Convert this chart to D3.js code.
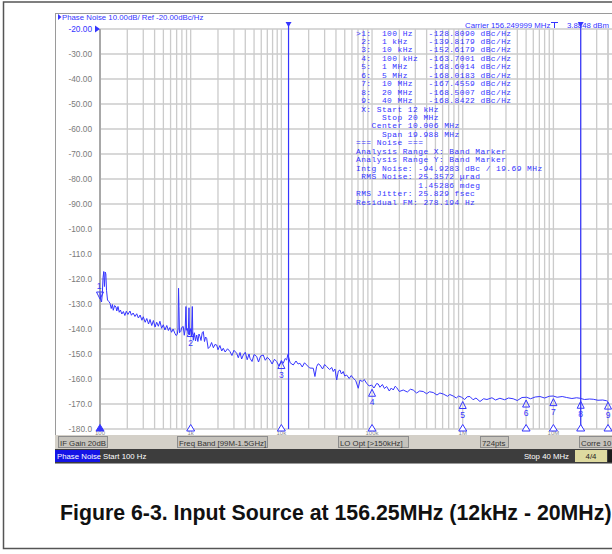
<!DOCTYPE html>
<html>
<head>
<meta charset="utf-8">
<script src="https://cdn.jsdelivr.net/npm/d3@7/dist/d3.min.js"></script>
<style>
body { margin: 0; background: #fff; }
svg { display: block; }
text { font-family: "Liberation Sans", Arial, sans-serif; }
.mono { font-family: "Liberation Mono", "DejaVu Sans Mono", monospace; white-space: pre; }
</style>
</head>
<body>
<svg width="612" height="554"></svg>
<script>
var svg = d3.select("svg");

// phase noise trace (Hz, dBc/Hz)
var freqs = [100, 102, 104, 106, 108, 110, 112, 114, 116, 118, 121, 125, 129, 133, 137, 140, 145, 150, 153, 158,
  163, 168, 174, 181, 188, 195, 203, 214, 222, 232, 243, 254, 265, 277, 290, 300, 315, 328, 343, 356,
  372, 388, 405, 422, 440, 458, 478, 499, 520, 545, 568, 591, 615, 640, 671, 690, 711, 725, 735, 743,
  752, 776, 800, 828, 850, 870, 887, 900, 918, 940, 958, 970, 982, 1000, 1020, 1042, 1055, 1069, 1100, 1130,
  1165, 1200, 1235, 1266, 1300, 1340, 1377, 1420, 1460, 1500, 1560, 1633, 1700, 1780, 1850, 1936, 2000, 2100, 2200, 2287,
  2400, 2550, 2711, 2850, 3000, 3214, 3350, 3500, 3650, 3802, 4000, 4200, 4400, 4508, 4750, 5000, 5342, 5600, 5900, 6310,
  6650, 7000, 7482, 7900, 8400, 8872, 9400, 10000, 10500, 11000, 11430, 11800, 12500, 13520, 14500, 15300, 16030, 17000, 18000, 19010,
  20500, 22480, 23450, 24500, 25500, 26660, 28500, 30000, 31550, 34000, 36000, 37330, 39000, 40740, 42500, 44260, 46000, 48130, 50000, 52480,
  56000, 59000, 62080, 66000, 70460, 73620, 78000, 82000, 87100, 93000, 99000, 105000, 112400, 117000, 122200, 130000, 137000, 144900, 155000, 163000,
  171400, 180000, 186600, 200000, 220800, 245000, 265000, 284400, 310000, 335000, 367300, 400000, 430000, 473100, 520000, 560000, 609500, 680000, 720000, 785200,
  850000, 900000, 972000, 1.05e6, 1.12e6, 1.2e6, 1.3e6, 1.4e6, 1.55e6, 1.7e6, 1.85e6, 2.1e6, 2.3e6, 2.57e6, 2.9e6, 3.2e6, 3.6e6, 4.0e6, 4.5e6, 5.07e6,
  5.6e6, 6.3e6, 7.1e6, 8.0e6, 9.0e6, 9.95e6, 1.1e7, 1.25e7, 1.4e7, 1.6e7, 1.8e7, 1.96e7, 2.2e7, 2.5e7, 2.75e7, 3.1e7, 3.5e7, 3.86e7, 4.0e7];
var noise = [-125.5, -128.5, -129.2, -126.0, -119.5, -117.0, -123.0, -117.2, -118.0, -124.5, -128.4, -129.0, -129.7, -131.8, -130.2, -132.5, -130.6, -131.2, -132.8, -131.0,
  -133.3, -132.4, -134.0, -133.0, -134.6, -132.9, -134.2, -132.8, -134.5, -133.6, -135.0, -133.9, -135.6, -134.4, -136.5, -135.1, -137.3, -135.8, -138.0, -136.2,
  -138.6, -136.6, -139.2, -137.3, -138.9, -136.9, -139.7, -138.3, -140.4, -138.6, -140.6, -139.4, -141.3, -140.0, -141.8, -142.6, -142.2, -140.0, -123.7, -131.0,
  -141.5, -141.0, -139.3, -139.0, -142.5, -140.0, -131.0, -140.5, -139.8, -142.0, -131.5, -142.4, -141.0, -139.8, -143.0, -131.0, -141.8, -144.5, -141.5, -144.8,
  -142.4, -145.0, -142.0, -143.0, -144.6, -141.5, -141.0, -145.0, -143.2, -143.7, -147.8, -147.0, -145.4, -147.5, -146.2, -146.4, -148.3, -146.6, -148.8, -147.7,
  -149.2, -147.9, -149.0, -150.6, -148.5, -149.7, -151.5, -149.4, -152.0, -150.4, -149.3, -152.3, -150.0, -151.7, -153.0, -150.2, -151.0, -153.2, -150.8, -150.4,
  -152.5, -151.3, -152.4, -154.0, -152.1, -153.0, -154.8, -152.6, -153.7, -151.8, -152.4, -150.2, -153.5, -154.4, -152.8, -154.0, -153.7, -155.2, -153.5, -154.4,
  -155.6, -155.7, -159.0, -155.0, -153.9, -154.4, -156.0, -154.2, -155.0, -156.2, -155.4, -157.0, -156.0, -160.4, -156.8, -156.4, -158.0, -157.0, -158.8, -158.4,
  -159.8, -158.6, -159.7, -160.6, -163.7, -160.4, -161.0, -160.2, -161.7, -162.8, -162.4, -163.6, -161.8, -162.0, -163.3, -162.2, -163.8, -163.0, -164.8, -163.6,
  -164.4, -162.9, -163.4, -165.0, -164.4, -165.2, -164.1, -164.4, -165.6, -164.8, -165.0, -165.9, -165.1, -165.4, -166.4, -165.6, -166.0, -166.9, -166.2, -166.8,
  -167.6, -166.8, -167.3, -168.2, -167.1, -167.0, -168.3, -167.6, -169.0, -167.9, -168.2, -167.5, -168.4, -167.7, -168.3, -167.6, -167.9, -168.6, -167.4, -167.3,
  -167.9, -167.2, -167.0, -167.6, -166.9, -166.8, -167.3, -167.0, -167.4, -167.8, -167.5, -167.7, -168.2, -168.0, -168.1, -168.5, -168.4, -168.7, -169.0];

var markerFreqs = [100, 1e3, 1e4, 1e5, 1e6, 5e6, 1e7, 2e7, 4e7];
var markerNames = ["100 Hz", "1 kHz", "10 kHz", "100 kHz", "1 MHz", "5 MHz", "10 MHz", "20 MHz", "40 MHz"];
var markerValues = [-128.8090, -139.8179, -152.6179, -163.7001, -168.6014, -168.0183, -167.4559, -168.5007, -168.8422];

var yTicks = [-20, -30, -40, -50, -60, -70, -80, -90, -100, -110, -120, -130, -140, -150, -160, -170, -180];
var xTickFreqs = [100, 1e3, 1e4, 1e5, 1e6, 1e7];
var xTickLabels = ["100", "1k", "10k", "100k", "1M", "10M"];
var bandStart = 12e3, bandStop = 20e6;

var infoLines = [
  " X: Start 12 kHz",
  "     Stop 20 MHz",
  "   Center 10.006 MHz",
  "     Span 19.988 MHz",
  "=== Noise ===",
  "Analysis Range X: Band Marker",
  "Analysis Range Y: Band Marker",
  "Intg Noise: -94.9283 dBc / 19.69 MHz",
  " RMS Noise: 25.3572 \u00b5rad",
  "            1.45286 mdeg",
  "RMS Jitter: 25.829 fsec",
  "Residual FM: 278.194 Hz"
];

var blue = "#3535ff", gridCol = "#cbcbcb";

var x = d3.scaleLog().domain([100, 4e7]).range([100, 608]);
var y = d3.scaleLinear().domain([-20, -180]).range([29, 429]);

// page frame
svg.append("rect").attr("x", 3.5).attr("y", 2).attr("width", 640).attr("height", 546.5)
  .attr("fill", "none").attr("stroke", "#555").attr("stroke-width", 1.5);
// analyzer screen
svg.append("rect").attr("x", 55.5).attr("y", 13.5).attr("width", 600).attr("height", 450)
  .attr("fill", "#fff").attr("stroke", "#9a9a9a");

// grid
var gridFreqs = [];
[100, 1e3, 1e4, 1e5, 1e6, 1e7].forEach(function (d) {
  for (var k = 1; k <= 9; k++) if (d * k <= 4e7) gridFreqs.push(d * k);
});
gridFreqs.push(4e7);

var grid = svg.append("g");
grid.selectAll("line.v").data(gridFreqs).enter().append("line")
  .attr("x1", function (d) { return x(d); }).attr("x2", function (d) { return x(d); })
  .attr("y1", y(-20)).attr("y2", y(-180))
  .attr("stroke", gridCol).attr("stroke-width", 1.3);
grid.selectAll("line.h").data(yTicks).enter().append("line")
  .attr("x1", x(100)).attr("x2", 612)
  .attr("y1", function (d) { return y(d); }).attr("y2", function (d) { return y(d); })
  .attr("stroke", gridCol).attr("stroke-width", 1.3);
svg.append("line").attr("x1", x(100)).attr("x2", x(100)).attr("y1", y(-20)).attr("y2", y(-180))
  .attr("stroke", "#a8a8a8").attr("stroke-width", 2);

// y labels
svg.append("g").selectAll("text").data(yTicks).enter().append("text")
  .attr("x", 92).attr("y", function (d) { return y(d) + 3; })
  .attr("text-anchor", "end").attr("font-size", 8.3)
  .attr("fill", function (d) { return d === -20 ? blue : "#7a7a7a"; })
  .text(function (d) { return d > -100 ? d.toFixed(2) : d.toFixed(1); });
svg.append("path").attr("d", "M95,25.5L100,29L95,32.5Z").attr("fill", blue);

// x tick labels (tiny)
svg.append("g").selectAll("text").data(xTickFreqs).enter().append("text")
  .attr("x", function (d) { return x(d); }).attr("y", 435)
  .attr("text-anchor", "middle").attr("font-size", 6).attr("fill", "#8a8a8a")
  .text(function (d, i) { return xTickLabels[i]; });

// title
svg.append("path").attr("d", "M58,14L61.5,17L58,20Z").attr("fill", blue);
svg.append("text").attr("x", 62).attr("y", 20).attr("font-size", 7.8).attr("fill", blue)
  .text("Phase Noise 10.00dB/ Ref -20.00dBc/Hz");

// band marker lines
[bandStart, bandStop].forEach(function (f) {
  svg.append("line").attr("x1", x(f)).attr("x2", x(f)).attr("y1", 22).attr("y2", y(-180))
    .attr("stroke", blue).attr("stroke-width", 1.2);
  svg.append("path").attr("d", "M" + (x(f) - 3) + ",22L" + (x(f) + 3) + ",22L" + x(f) + ",27Z").attr("fill", blue);
});

// trace
var line = d3.line()
  .x(function (d) { return x(d); })
  .y(function (d, i) { return y(noise[i]); });
svg.append("path").datum(freqs).attr("d", line)
  .attr("fill", "none").attr("stroke", blue).attr("stroke-width", 1);

// markers on trace
var mk = svg.append("g");
markerFreqs.forEach(function (f, i) {
  var mx = x(f), my = y(markerValues[i]);
  if (i === 0) {
    mk.append("path").attr("d", "M" + (mx - 3.5) + "," + (my - 9) + "L" + (mx + 3.5) + "," + (my - 9) + "L" + mx + "," + (my - 2) + "Z")
      .attr("fill", "none").attr("stroke", blue);
    mk.append("text").attr("x", mx - 1).attr("y", my - 12).attr("text-anchor", "middle")
      .attr("font-size", 8.5).attr("fill", blue).text(i + 1);
  } else {
    mk.append("path").attr("d", "M" + (mx - 3.5) + "," + (my + 8) + "L" + (mx + 3.5) + "," + (my + 8) + "L" + mx + "," + (my + 1) + "Z")
      .attr("fill", "none").attr("stroke", blue);
    mk.append("text").attr("x", mx).attr("y", my + 17).attr("text-anchor", "middle")
      .attr("font-size", 8.5).attr("fill", blue).text(i + 1);
  }
  mk.append("path").attr("d", "M" + (mx - 4) + ",431L" + (mx + 4) + ",431L" + mx + ",424.5Z")
    .attr("fill", i === 0 ? blue : "#fff").attr("stroke", blue);
});

// marker table
var tableLines = markerFreqs.map(function (f, i) {
  var head = (i === 0 ? ">" : " ") + (i + 1) + ":  " + markerNames[i];
  while (head.length < 14) head += " ";
  return head + markerValues[i].toFixed(4) + " dBc/Hz";
}).concat(infoLines);
svg.append("g").selectAll("text").data(tableLines).enter().append("text")
  .attr("class", "mono").attr("x", 356).attr("y", function (d, i) { return 35.5 + i * 8.45; })
  .attr("font-size", 7.9).attr("letter-spacing", 0.45).attr("fill", blue)
  .text(function (d) { return d; });

// carrier readout
svg.append("text").attr("x", 465).attr("y", 28).attr("font-size", 7.8).attr("fill", blue)
  .text("Carrier 156.249999 MHz");
svg.append("path").attr("d", "M551,22.5H558M554.5,22.5V28").attr("stroke", blue).attr("fill", "none");
svg.append("text").attr("x", 567).attr("y", 28).attr("font-size", 7.8).attr("fill", blue)
  .text("3.8848 dBm");

// status bars
svg.append("rect").attr("x", 55).attr("y", 435).attr("width", 560).attr("height", 14).attr("fill", "#d4d0c8");
var boxes = [
  { x: 58, w: 49, t: "IF Gain 20dB" },
  { x: 177, w: 90, t: "Freq Band [99M-1.5GHz]" },
  { x: 338, w: 70, t: "LO Opt [>150kHz]" },
  { x: 480, w: 28, t: "724pts" },
  { x: 579, w: 40, t: "Corre 10" }
];
boxes.forEach(function (b) {
  svg.append("rect").attr("x", b.x + 0.5).attr("y", 436.5).attr("width", b.w).attr("height", 11)
    .attr("fill", "#c6c3bc").attr("stroke", "#8c8c8c");
  svg.append("text").attr("x", b.x + 2).attr("y", 445.5).attr("font-size", 7.8).attr("fill", "#333")
    .text(b.t);
});
svg.append("rect").attr("x", 55).attr("y", 449).attr("width", 560).attr("height", 14).attr("fill", "#3d3d3d");
svg.append("rect").attr("x", 55).attr("y", 450).attr("width", 45).attr("height", 12).attr("fill", "#1414e6");
svg.append("text").attr("x", 57).attr("y", 459).attr("font-size", 7.8).attr("fill", "#fff").text("Phase Noise");
svg.append("text").attr("x", 103).attr("y", 459).attr("font-size", 7.8).attr("fill", "#fff").text("Start 100 Hz");
svg.append("text").attr("x", 569).attr("y", 459).attr("font-size", 7.8).attr("fill", "#fff")
  .attr("text-anchor", "end").text("Stop 40 MHz");
svg.append("rect").attr("x", 575).attr("y", 450).attr("width", 32).attr("height", 12).attr("fill", "#dedaa0");
svg.append("text").attr("x", 591).attr("y", 459).attr("font-size", 7.8).attr("fill", "#222")
  .attr("text-anchor", "middle").text("4/4");
svg.append("rect").attr("x", 608).attr("y", 450).attr("width", 6).attr("height", 12).attr("fill", "#1c1c1c");

// caption
svg.append("text").attr("x", 60).attr("y", 520).attr("font-size", 21.3).attr("font-weight", "bold")
  .attr("fill", "#111").text("Figure 6-3. Input Source at 156.25MHz (12kHz - 20MHz)");
</script>
</body>
</html>
